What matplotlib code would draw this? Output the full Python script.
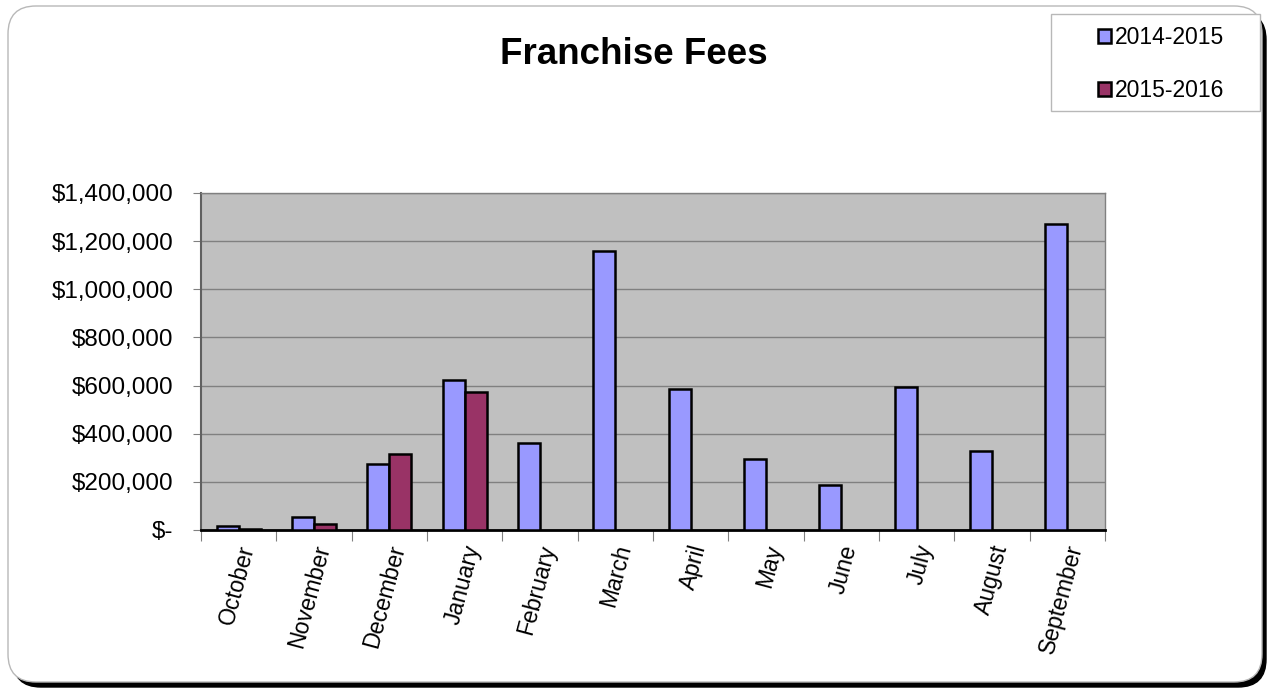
import matplotlib
matplotlib.use("Agg")
import matplotlib.pyplot as plt
from matplotlib.patches import FancyBboxPatch, Rectangle
import numpy as np

months = ["October", "November", "December", "January", "February", "March",
          "April", "May", "June", "July", "August", "September"]
fy2014 = [15000, 54000, 274000, 623000, 361000, 1159000, 586000, 295000, 187000, 594000, 328000, 1271000]
fy2015 = [3000, 25000, 316000, 573000, np.nan, np.nan, np.nan, np.nan, np.nan, np.nan, np.nan, np.nan]
series_labels = ["2014-2015", "2015-2016"]
yticks = [0, 200000, 400000, 600000, 800000, 1000000, 1200000, 1400000]
ytick_labels = ["$-", "$200,000", "$400,000", "$600,000", "$800,000", "$1,000,000", "$1,200,000", "$1,400,000"]
title = "Franchise Fees"

plt.rcParams['font.family'] = ['Liberation Sans', 'DejaVu Sans']

W, H = 1268, 688
fig = plt.figure(figsize=(W / 100, H / 100), dpi=100)
fig.patch.set_facecolor("white")

def fx(px):
    return px / W

def fy(py):
    return 1 - py / H

# outer frame with shadow
shadow = FancyBboxPatch((fx(13), fy(687)), fx(1253), fy(12) - fy(687),
                        boxstyle="round,pad=0,rounding_size=0.022", transform=fig.transFigure,
                        facecolor="black", edgecolor="black", zorder=0, mutation_aspect=W / H)
fig.patches.append(shadow)
frame = FancyBboxPatch((fx(8), fy(682)), fx(1254), fy(6) - fy(682),
                       boxstyle="round,pad=0,rounding_size=0.022", transform=fig.transFigure,
                       facecolor="white", edgecolor="#b8b8b8", linewidth=1.0, zorder=1,
                       mutation_aspect=W / H)
fig.patches.append(frame)

ax = fig.add_axes([fx(201), fy(530), fx(1105) - fx(201), fy(193) - fy(530)])
ax.set_zorder(2)
ax.set_facecolor("#C0C0C0")

x = np.arange(len(months))
w = 0.29
b1 = ax.bar(x - w / 2, fy2014, width=w, color="#9999FF", edgecolor="black", linewidth=1.8,
            label=series_labels[0], zorder=3)
b2 = ax.bar(x + w / 2, fy2015, width=w, color="#993366", edgecolor="black", linewidth=1.8,
            label=series_labels[1], zorder=3)

ax.set_xlim(-0.5, len(months) - 0.5)
ax.set_ylim(0, 1400000)
ax.set_yticks(yticks)
ax.set_yticklabels(ytick_labels, fontsize=17.5)
ax.yaxis.grid(True, color="#808080", linewidth=1.0, zorder=1)
ax.set_axisbelow(True)
ax.tick_params(axis="y", direction="out", length=6, color="#808080", pad=14)

# x ticks at category boundaries
ax.set_xticks(np.arange(-0.5, len(months) + 0.5, 1.0))
ax.set_xticklabels([])
ax.tick_params(axis="x", direction="out", length=8, color="#808080")
for i, m in enumerate(months):
    ax.text(i + 0.12, -0.045, m, transform=ax.get_xaxis_transform(), rotation=75,
            ha="right", va="center", rotation_mode="anchor", fontsize=16.5)

for s in ["top", "right"]:
    ax.spines[s].set_color("#808080")
    ax.spines[s].set_linewidth(1.0)
ax.spines["left"].set_color("#606060")
ax.spines["left"].set_linewidth(1.5)
ax.spines["bottom"].set_color("black")
ax.spines["bottom"].set_linewidth(2.0)

fig.text(fx(634), fy(54), title, ha="center", va="center", fontsize=26.5, fontweight="bold", zorder=5)

# legend
lg_box = Rectangle((fx(1051), fy(111)), fx(1260) - fx(1051), fy(14) - fy(111),
                   transform=fig.transFigure, facecolor="white", edgecolor="#b8b8b8",
                   linewidth=1.0, zorder=3)
fig.patches.append(lg_box)
leg = fig.legend(handles=[b1, b2], labels=series_labels, loc="center",
                 bbox_to_anchor=(fx(1161), fy(64)), frameon=False, fontsize=16.5,
                 handlelength=0.6, handleheight=0.6, handletextpad=0.15, labelspacing=1.3)
leg.set_zorder(4)

fig.savefig("out.png", dpi=100, facecolor="white")
